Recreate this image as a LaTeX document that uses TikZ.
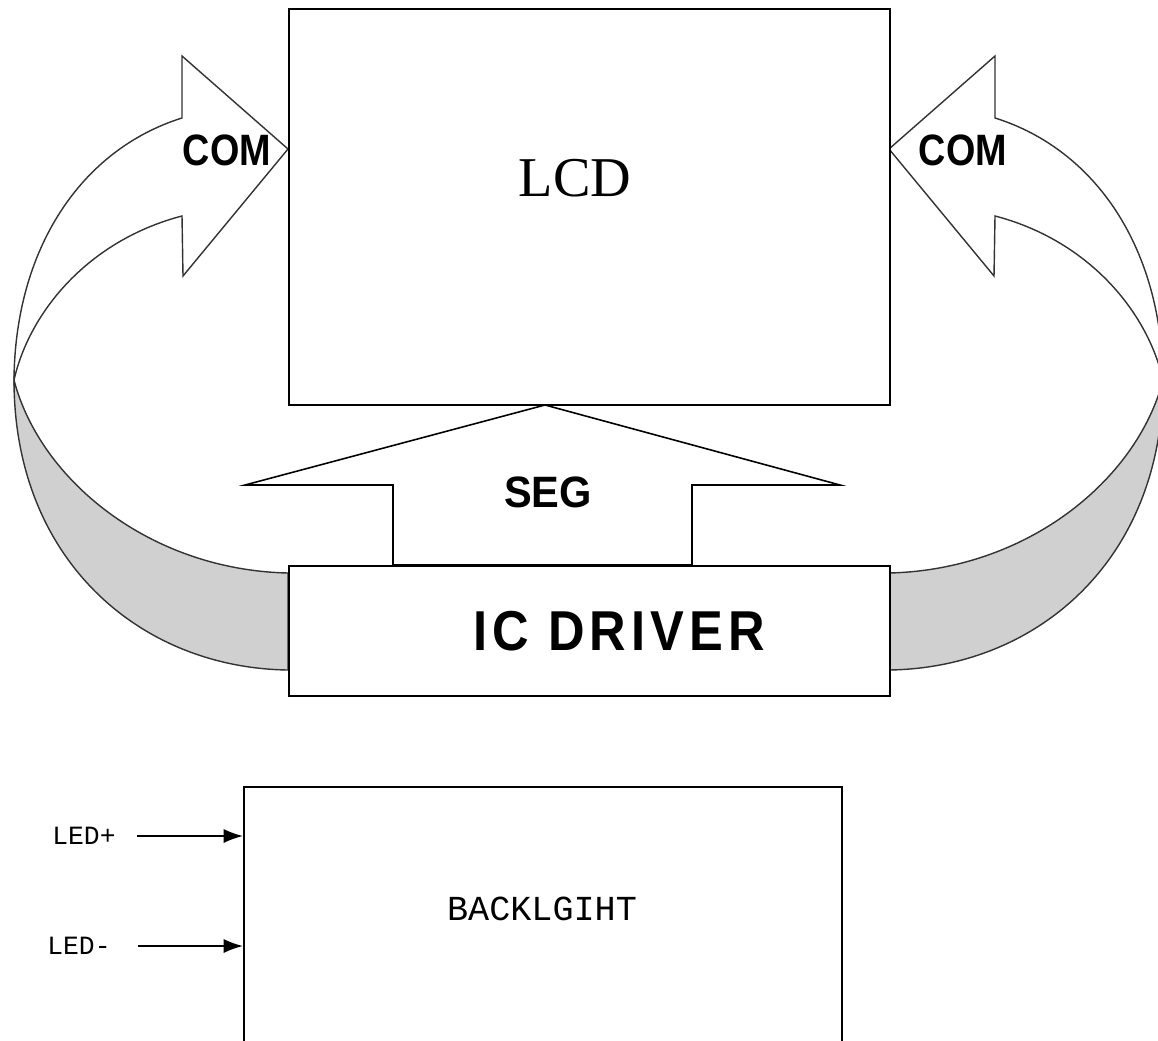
\documentclass[tikz,border=0pt]{standalone}
\usepackage{fontspec}
\setmainfont{Liberation Serif}
\setsansfont{Liberation Sans}
\setmonofont{Liberation Mono}
\usetikzlibrary{arrows.meta}

\definecolor{bandgray}{RGB}{208,208,208}

\tikzset{
  box/.style={draw, line width=1.1pt, fill=white, anchor=north west, inner sep=0pt},
  ribbon/.style={draw=black!80, line width=0.8pt},
  signal/.style={font=\sffamily\bfseries\fontsize{25}{25}\selectfont, xscale=0.86, transform shape},
  pin/.style={font=\ttfamily\fontsize{15}{15}\selectfont},
  feed/.style={line width=0.9pt, -{Latex[length=11pt,width=8pt]}}
}

\begin{document}
\begin{tikzpicture}[x=0.02cm, y=-0.02cm] % one unit = one pixel of the sketch
        \useasboundingbox (0,0) rectangle (1158,1040);

        % 1. Curved COM ribbons: left one, then its mirror image
        \foreach \s/\sh in {1/0,-1/1177} {
            \begin{scope}[shift={(\sh,0)}, xscale=\s]
                \draw[ribbon, fill=bandgray] (14,380) .. controls (14,560) and (140,668) .. (288,670)
                    -- (288,573) .. controls (150,570) and (40,480) .. (14,380) -- cycle;
                \draw[ribbon, fill=white] (182,216) -- (183,276) -- (288,149) -- (182,56) -- (182,118)
                    .. controls (80,150) and (15,250) .. (14,380)
                    .. controls (30,310) and (90,240) .. (182,216) -- cycle;
            \end{scope}
        }

        % 2. SEG arrow between driver and panel
        \draw[line width=0.9pt, fill=white] (545,405) -- (840,485) -- (692,485) -- (692,565)
            -- (393,565) -- (393,485) -- (245,485) -- cycle;

        % 3. The boxes
        \node[box, minimum width=12.02cm, minimum height=7.92cm] (lcd) at (288,8) {};
        \node[box, minimum width=12.02cm, minimum height=2.6cm] (ic) at (288,565) {};
        \node[box, minimum width=11.96cm, minimum height=5.6cm] (bl) at (243,786) {};

        % 4. Add the labels
        \node[font=\fontsize{32}{32}\selectfont] (lcdtext) at (575,178) {LCD};
        \node[signal] (comleft) at (227,150) {COM};
        \node[signal] (comright) at (963,150) {COM};
        \node[signal, xscale=1.1] (seg) at (548,492) {SEG};
        \node[font=\sffamily\bfseries\fontsize{32}{32}\selectfont\addfontfeature{LetterSpace=10},
              xscale=0.9, transform shape] (ictext) at (619,631) {IC DRIVER};
        \node[font=\ttfamily\fontsize{20}{20}\selectfont] (bltext) at (542,909) {BACKLGIHT};

        % 5. Backlight supply pins
        \node[pin] (ledp) at (84,836) {LED+};
        \node[pin] (ledm) at (79,946) {LED-};
        \draw[feed] ([xshift=8.5pt]ledp.east) -- (ledp -| bl.west);
        \draw[feed] ([xshift=12pt]ledm.east) -- (ledm -| bl.west);
    \end{tikzpicture}
\end{document}
